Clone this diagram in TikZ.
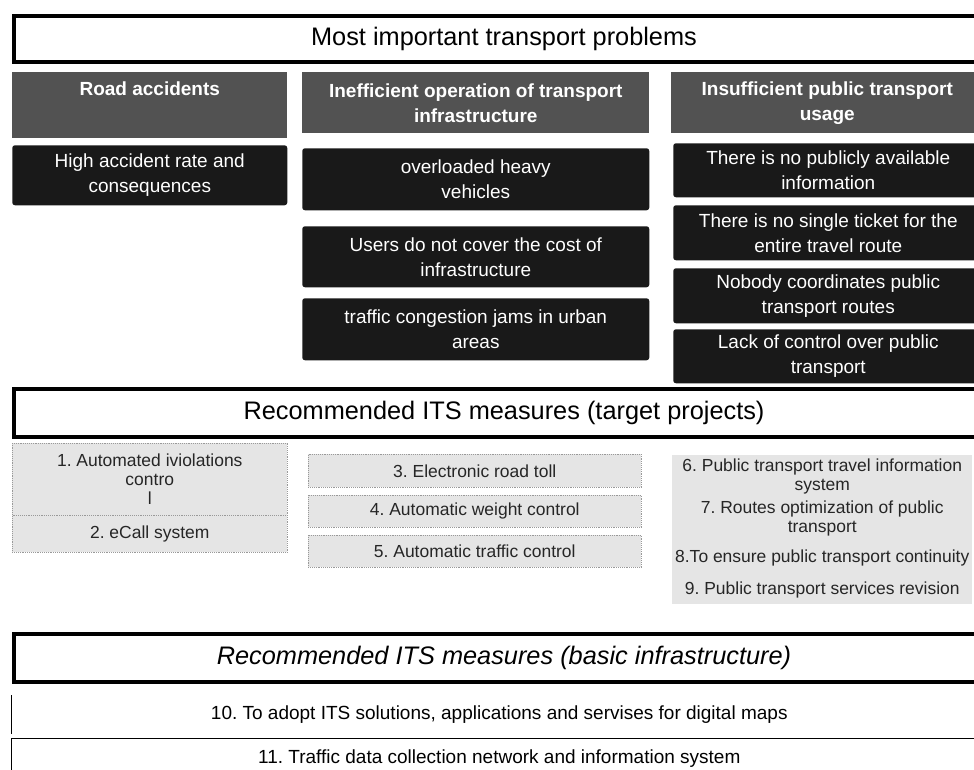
\documentclass[tikz,border=0pt]{standalone}
\usepackage{fontspec}
\setmainfont{Liberation Sans}
\frenchspacing
\newcommand\hdrsize{\fontsize{19}{23}\selectfont}
\newcommand\boxsize{\fontsize{14.25}{18.75}\selectfont}
\newcommand\itemsize{\fontsize{13.1}{14.25}\selectfont}
\tikzset{cell/.style 2 args={minimum width=#1*0.75pt,minimum height=#2*0.75pt,
           anchor=north west,inner sep=0pt,align=center},
         headbox/.style={draw,line width=3pt,fill=white,font=\hdrsize},
         problem/.style={fill=black!68,text=white,font=\boxsize\bfseries},
         cause/.style={fill=black!90,text=white,rounded corners=2pt,font=\boxsize},
         measure/.style={fill=black!10,draw=black!40,densely dotted,
           text=black!85,font=\itemsize},
         service/.style={fill=black!10,text=black!85,font=\itemsize},
         basicrow/.style={font=\boxsize}}

\begin{document}
\begin{tikzpicture}[x=0.75pt,y=-0.75pt]
  \useasboundingbox (0,0) rectangle (974,769);
  \clip (0,0) rectangle (974,769);

  \node[headbox,cell={980}{46}] (top) at (12,14) {Most important transport problems};

  \node[problem,cell={275}{66}] (accidents) at (12,72) {Road accidents\\ \strut};
  \node[problem,cell={347}{61}] (operation) at (302,72)
      {Inefficient operation of transport\\infrastructure};
  \node[problem,cell={312}{61}] (usage) at (671,72)
      {Insufficient public transport\\usage};

  \node[cause,cell={275}{60}] (rate) at (12,145) {High accident rate and\\consequences};
  \node[cause,cell={347}{62}] (heavy) at (302,148) {overloaded heavy\\vehicles};
  \node[cause,cell={347}{61}] (cost) at (302,226)
      {Users do not cover the cost of\\infrastructure};
  \node[cause,cell={347}{62}] (jams) at (302,298)
      {traffic congestion jams in urban\\areas};
  \node[cause,cell={310}{54}] (info) at (673,143)
      {There is no publicly available\\information};
  \node[cause,cell={310}{55}] (ticket) at (673,205)
      {There is no single ticket for the\\entire travel route};
  \node[cause,cell={310}{55}] (coord) at (673,268)
      {Nobody coordinates public\\transport routes};
  \node[cause,cell={310}{54}] (control) at (673,329)
      {Lack of control over public\\transport};

  \node[headbox,cell={980}{48}] (target) at (12,387)
      {Recommended ITS measures (target projects)};

  \node[measure,cell={275}{72}] (violations) at (12,443)
      {1. Automated iviolations\\contro\\l};
  \node[measure,cell={275}{37}] (ecall) at (12,515) {2. eCall system};
  \node[measure,cell={333}{33}] (toll) at (308,454) {3. Electronic road toll};
  \node[measure,cell={333}{32}] (weight) at (308,495) {4. Automatic weight control};
  \node[measure,cell={333}{32}] (traffic) at (308,535) {5. Automatic traffic control};
  \node[service,cell={300}{42}] (travel) at (672,455)
      {6. Public transport travel information\\system};
  \node[service,cell={300}{43}] (routes) at (672,497)
      {7. Routes optimization of public\\transport};
  \node[service,cell={300}{36}] (continuity) at (672,540)
      {8.To ensure public transport continuity};
  \node[service,cell={300}{28}] (revision) at (672,576)
      {9. Public transport services revision};

  \node[headbox,cell={980}{48},font=\hdrsize\itshape] (basic) at (12,632)
      {Recommended ITS measures (basic infrastructure)};

  \node[basicrow,cell={976}{38}] (maps) at (11,695)
      {10. To adopt ITS solutions, applications and servises for digital maps};
  \node[basicrow,cell={976}{40}] (network) at (11,738)
      {11. Traffic data collection network and information system};
  \draw[line width=0.75pt] (maps.north west) -- (maps.south west);
  \draw[line width=0.75pt] (network.south west) |- (network.north east);
\end{tikzpicture}
\end{document}
